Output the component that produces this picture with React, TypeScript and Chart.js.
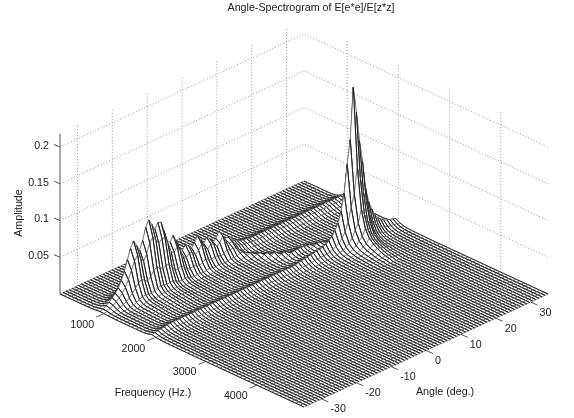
import React, { useEffect, useRef } from "react";
import { Chart, registerables } from "chart.js";

Chart.register(...registerables);

const titleText = "Angle-Spectrogram of E[e*e]/E[z*z]";

// Mesh axes (Hz and degrees)
const frequencies = [
  156.25, 234.375, 312.5, 390.625, 468.75, 546.875, 625, 703.125, 781.25, 859.375, 937.5, 1015.625, 1093.75, 1171.875, 1250, 1328.125,
  1406.25, 1484.375, 1562.5, 1640.625, 1718.75, 1796.875, 1875, 1953.125, 2031.25, 2109.375, 2187.5, 2265.625, 2343.75, 2421.875, 2500, 2578.125,
  2656.25, 2734.375, 2812.5, 2890.625, 2968.75, 3046.875, 3125, 3203.125, 3281.25, 3359.375, 3437.5, 3515.625, 3593.75, 3671.875, 3750, 3828.125,
  3906.25, 3984.375, 4062.5, 4140.625, 4218.75, 4296.875, 4375, 4453.125, 4531.25, 4609.375, 4687.5, 4765.625, 4843.75, 4921.875,
];
const angles = [
  -35, -34.125, -33.25, -32.375, -31.5, -30.625, -29.75, -28.875, -28, -27.125, -26.25, -25.375, -24.5, -23.625, -22.75, -21.875, -21, -20.125, -19.25, -18.375,
  -17.5, -16.625, -15.75, -14.875, -14, -13.125, -12.25, -11.375, -10.5, -9.625, -8.75, -7.875, -7, -6.125, -5.25, -4.375, -3.5, -2.625, -1.75, -0.875,
  0, 0.875, 1.75, 2.625, 3.5, 4.375, 5.25, 6.125, 7, 7.875, 8.75, 9.625, 10.5, 11.375, 12.25, 13.125, 14, 14.875, 15.75, 16.625,
  17.5, 18.375, 19.25, 20.125, 21, 21.875, 22.75, 23.625, 24.5, 25.375, 26.25, 27.125, 28, 28.875, 29.75, 30.625, 31.5, 32.375, 33.25, 34.125, 35,
];

// Amplitudes, one per angle; the mesh is built from these ridges
const lowRidgeAmp = [
  .0014, .0027, .0054, .0082, .0122, .0163, .0218, .0299, .0408, .0544, .068, .0762, .068, .0599, .0707, .0871, .0952, .0871, .0789, .0857,
  .0844, .0707, .0544, .0517, .0585, .049, .0367, .0327, .0381, .0354, .0299, .0354, .0435, .0354, .0272, .034, .0299, .0231, .0259, .034,
  .0245, .0204, .0218, .0163, .0136, .0109, .0095, .0082, .0082, .0068, .0068, .0068, .0068, .0068, .0068, .0068, .0068, .0068, .0068, .0068,
  .0068, .0068, .0068, .0068, .0068, .0068, .0068, .0068, .0068, .0068, .0068, .0068, .0068, .0068, .0068, .0068, .0068, .0068, .0068, .0068, .0068,
];
const highRidgeAmp = [
  .0027, .0034, .0041, .0048, .0054, .0061, .0068, .0068, .0068, .0068, .0068, .0068, .0068, .0068, .0068, .0068, .0068, .0068, .0068, .0068,
  .0068, .0068, .0068, .0068, .0068, .0068, .0068, .0068, .0068, .0068, .0068, .0068, .0068, .0068, .0068, .0068, .0068, .0068, .0068, .0068,
  .0068, .0068, .0068, .0068, .0068, .0068, .0068, .0068, .0082, .0082, .0095, .0095, .0109, .0109, .0122, .0122, .0136, .015, .0177, .0218,
  .0272, .0354, .049, .0707, .1061, .1429, .2122, .1769, .136, .1061, .068, .0476, .0354, .0259, .019, .015, .0122, .0109, .0095, .0082, .0068,
];
const midRidgeBin = [
  11, 11, 11, 11, 11, 11, 11, 11, 11, 11, 11, 11, 11, 11, 11, 11, 11, 11, 11, 11,
  11, 11, 11, 11, 11, 11, 11, 11, 11, 11, 11, 11, 11, 11, 11, 11, 11, 11, 11, 11,
  11.6, 12, 12.6, 13.3, 14, 14.7, 15.5, 16.3, 17, 17.6, 18.2, 18.6, 18.9, 19, 19, 19.1, 19.3, 19.5, 19.8, 20.1,
  20.4, 20.7, 21, 21.3, 21.6, 21.8, 22, 22, 22, 22, 22, 22, 22, 22, 22, 22, 22, 22, 22, 22, 22,
];
const midRidgeAmp = [
  0, 0, 0, 0, 0, 0, 0, 0, 0, 0, 0, 0, 0, 0, 0, 0, 0, 0, 0, 0,
  0, 0, 0, 0, 0, 0, 0, 0, 0, 0, 0, 0, 0, 0, .002, .002, .003, .004, .004, .005,
  .005, .006, .006, .006, .006, .006, .007, .007, .007, .007, .007, .007, .007, .007, .007, .007, .007, .008, .008, .008,
  .008, .009, .01, .011, .012, 0, 0, 0, 0, 0, 0, 0, 0, 0, 0, 0, 0, 0, 0, 0, 0,
];
// Skirt of a ridge, by distance in frequency bins from its crest
const lowFrontSkirt = [1, .78, .38, .14, .07, .05, .04, .03, .02, .012, .006, 0];
const lowBackSkirt = [1, .5, .15, .04, 0];
const highFrontSkirt = [1, .5, .24, .13, .08, .055, .04, .025, .015, .01, 0];
const highBackSkirt = [1, .4, .1, 0];
const lowRidgeBin = 10;
const highRidgeBin = 23;

// Axes
const frequencyTicks = [1000, 2000, 3000, 4000];
const angleTicks = [-30, -20, -10, 0, 10, 20, 30];
const amplitudeTicks = [0.05, 0.1, 0.15, 0.2];
const amplitudeTickLabels = ["0.05", "0.1", "0.15", "0.2"];
const amplitudeTop = 0.218;

const fMin = frequencies[0];
const fMax = frequencies[frequencies.length - 1];
const aMin = angles[0];
const aMax = angles[angles.length - 1];

function project(f: number, a: number, z: number) {
  const u = (f - fMin) / (fMax - fMin);
  const v = (a - aMin) / (aMax - aMin);
  return { x: 60 + 244 * (u + v), y: 294 + 113 * (u - v) - 735 * z };
}

function skirt(table: number[], d: number) {
  const i = Math.floor(d);
  if (i >= table.length - 1) return 0;
  return table[i] + (table[i + 1] - table[i]) * (d - i);
}
function ridge(i: number, bin: number, amp: number, front: number[], back: number[]) {
  return amp * (i >= bin ? skirt(front, i - bin) : skirt(back, bin - i));
}
function height(i: number, j: number) {
  return (
    ridge(i, lowRidgeBin, lowRidgeAmp[j], lowFrontSkirt, lowBackSkirt) +
    ridge(i, highRidgeBin, highRidgeAmp[j], highFrontSkirt, highBackSkirt) +
    ridge(i, midRidgeBin[j], midRidgeAmp[j], highFrontSkirt, highBackSkirt)
  );
}

function buildDatasets() {
  const sets: any[] = [];
  const gap = { x: NaN, y: NaN };
  // Chart.js paints the last dataset first, so the front of the mesh comes first here.
  for (let j = 0; j < angles.length - 1; j++) {
    for (let i = frequencies.length - 2; i >= 0; i--) {
      const p = (ii: number, jj: number) => project(frequencies[ii], angles[jj], height(ii, jj));
      // lines of constant angle, in the darker stroke
      sets.push({
        data: [p(i, j), p(i + 1, j), gap, p(i, j + 1), p(i + 1, j + 1)],
        fill: false,
        borderColor: "#111111",
        borderWidth: 0.85,
      });
      // the cell itself, white, with its lines of constant frequency in the lighter stroke
      sets.push({
        data: [p(i, j), p(i + 1, j), p(i + 1, j + 1), p(i, j + 1), p(i, j)],
        fill: "shape",
        backgroundColor: "#ffffff",
        borderColor: "#666666",
        borderWidth: 0.7,
      });
    }
  }
  const guide = (pts: { x: number; y: number }[], color: string, dash: number[]) =>
    sets.push({ data: pts, fill: false, borderColor: color, borderWidth: 1, borderDash: dash });
  const dotted = [1, 2];
  for (const z of amplitudeTicks) {
    guide([project(fMin, aMin, z), project(fMin, aMax, z), project(fMax, aMax, z)], "#999999", dotted);
    const o = project(fMin, aMin, z);
    guide([o, { x: o.x - 6, y: o.y - 2.5 }], "#555555", []);
  }
  for (const a of angleTicks) {
    guide([project(fMin, a, 0), project(fMin, a, amplitudeTop)], "#999999", dotted);
    const o = project(fMax, a, 0);
    guide([o, { x: o.x + 7, y: o.y + 3 }], "#555555", []);
  }
  for (const f of frequencyTicks) {
    guide([project(f, aMax, 0), project(f, aMax, amplitudeTop)], "#999999", dotted);
    const o = project(f, aMin, 0);
    guide([o, { x: o.x - 7, y: o.y + 3 }], "#555555", []);
  }
  guide([project(fMin, aMin, 0), project(fMin, aMin, amplitudeTop)], "#555555", []);
  return sets;
}

const textPlugin = {
  id: "axisText",
  afterDraw(chart: any) {
    const ctx = chart.ctx;
    const put = (s: string, x: number, y: number, align: CanvasTextAlign, rot = 0) => {
      ctx.save();
      ctx.translate(x, y);
      ctx.rotate(rot);
      ctx.textAlign = align;
      ctx.textBaseline = "middle";
      ctx.fillText(s, 0, 0);
      ctx.restore();
    };
    ctx.save();
    ctx.font = '10.7px "Liberation Sans", Arial, sans-serif';
    ctx.fillStyle = "#222222";
    put(titleText, 311, 8, "center");
    amplitudeTicks.forEach((z, k) => {
      const o = project(fMin, aMin, z);
      put(amplitudeTickLabels[k], o.x - 11, o.y - 1, "right");
    });
    for (const f of frequencyTicks) {
      const o = project(f, aMin, 0);
      put(String(f), o.x - 21, o.y + 11, "center");
    }
    for (const a of angleTicks) {
      const o = project(fMax, a, 0);
      put(String(a), o.x + 9, o.y + 10.5, "left");
    }
    put("Frequency (Hz.)", 153, 393, "center");
    put("Angle (deg.)", 445, 392, "center");
    put("Amplitude", 19, 213, "center", -Math.PI / 2);
    ctx.restore();
  },
};

export default function App() {
  const ref = useRef<HTMLCanvasElement>(null);
  useEffect(() => {
    const chart = new Chart(ref.current!, {
      type: "line",
      data: { datasets: buildDatasets() },
      options: {
        responsive: false,
        animation: false,
        events: [],
        layout: { padding: 0 },
        elements: {
          point: { radius: 0 },
          line: { tension: 0, borderJoinStyle: "bevel", borderCapStyle: "butt" },
        },
        plugins: { legend: { display: false }, tooltip: { enabled: false }, title: { display: false } },
        scales: {
          x: { type: "linear", min: 0, max: 574, display: false },
          y: { type: "linear", min: 0, max: 418, reverse: true, display: false },
        },
      },
      plugins: [textPlugin],
    } as any);
    return () => chart.destroy();
  }, []);
  return (
    <div style={{ position: "fixed", left: 0, top: 0, width: 574, height: 418, background: "#fff" }}>
      <canvas ref={ref} width={574} height={418} style={{ display: "block" }} />
    </div>
  );
}
